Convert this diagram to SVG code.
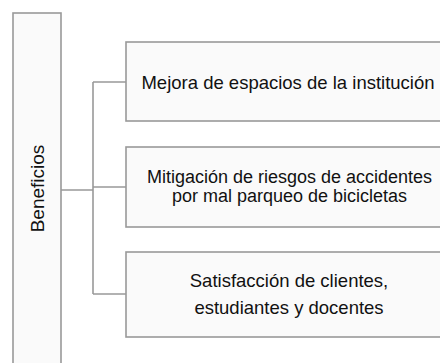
<svg xmlns="http://www.w3.org/2000/svg" width="440" height="363" viewBox="0 0 440 363">
<style>
.box{fill:#fafafa;stroke:#999;stroke-width:1.6}
.t{font-family:"Liberation Sans",Arial,sans-serif;font-size:18.5px;fill:#111;text-anchor:middle}
.c{fill:none;stroke:#999;stroke-width:1.6}
</style>
<rect width="440" height="363" fill="#fff"/>
<g id="connectors">
<path class="c" d="M61 190H93M93 82V294M93 82H126M93 187H126M93 294H126"/>
</g>
<g id="beneficios">
<rect class="box" x="13" y="13" width="48" height="360"/>
<text class="t" style="font-size:19px" transform="translate(43.5 188.5) rotate(-90)">Beneficios</text>
</g>
<g id="mejora">
<rect class="box" x="126" y="42" width="330" height="79"/>
<text class="t" x="288" y="89">Mejora de espacios de la institución</text>
</g>
<g id="mitigacion">
<rect class="box" x="126" y="147" width="330" height="80"/>
<text class="t" style="font-size:18px"><tspan x="289.5" y="182.5">Mitigación de riesgos de accidentes</tspan><tspan x="289.5" y="202">por mal parqueo de bicicletas</tspan></text>
</g>
<g id="satisfaccion">
<rect class="box" x="126" y="252" width="330" height="85"/>
<text class="t"><tspan x="289" y="287">Satisfacción de clientes,</tspan><tspan x="289" y="314">estudiantes y docentes</tspan></text>
</g>
</svg>
